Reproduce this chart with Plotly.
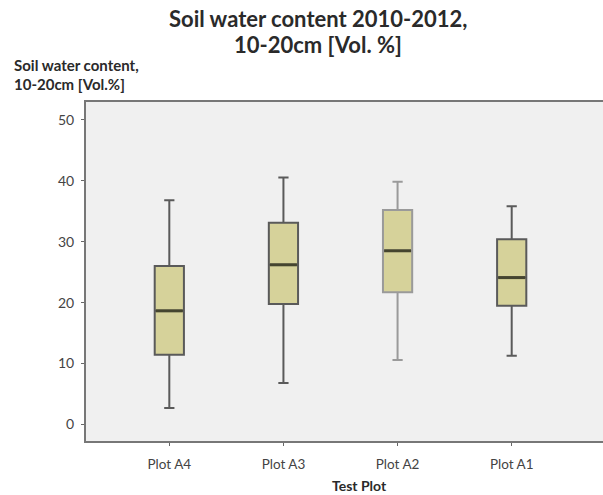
import plotly.graph_objects as go

categories = ["Plot A4", "Plot A3", "Plot A2", "Plot A1"]
lower = [2.7, 6.8, 10.6, 11.3]
q1 = [11.45, 19.75, 21.7, 19.5]
median = [18.65, 26.2, 28.5, 24.1]
q3 = [26.0, 33.1, 35.2, 30.4]
upper = [36.8, 40.5, 39.8, 35.8]
y_ticks = [0, 10, 20, 30, 40, 50]

line_colors = ["#5a5a5a", "#5a5a5a", "#9a9a9a", "#5a5a5a"]
FONT = "Lato"
BOXW = 0.256

fig = go.Figure()
for i, cat in enumerate(categories):
    fig.add_trace(go.Box(
        x=[i], q1=[q1[i]], median=[median[i]], q3=[q3[i]],
        lowerfence=[lower[i]], upperfence=[upper[i]],
        width=BOXW, whiskerwidth=0.35,
        fillcolor="#d6d29a", line=dict(color=line_colors[i], width=2),
        boxpoints=False, showlegend=False, hoverinfo="skip",
    ))
    fig.add_trace(go.Scatter(
        x=[i - BOXW / 2 + 0.01, i + BOXW / 2 - 0.01], y=[median[i], median[i]],
        mode="lines", line=dict(color="#45452f", width=3),
        showlegend=False, hoverinfo="skip",
    ))

fig.update_layout(
    width=603, height=495,
    margin=dict(l=86, r=0, t=102, b=54),
    paper_bgcolor="white", plot_bgcolor="#f0f0f0",
    font=dict(family=FONT, color="#333333"),
    showlegend=False,
)
fig.update_xaxes(
    range=[-0.73, 3.8], tickvals=list(range(len(categories))), ticktext=categories,
    showgrid=False, zeroline=False, showline=True, linecolor="#777777", linewidth=2,
    mirror=True, ticks="outside", ticklen=3, tickcolor="#666666",
    ticklabelstandoff=7,
    tickfont=dict(size=13.5, color="#444444", family=FONT),
)
fig.update_yaxes(
    range=[-2.7, 52.9], tickvals=y_ticks,
    showgrid=False, zeroline=False, showline=True, linecolor="#777777", linewidth=2,
    mirror=False, ticks="outside", ticklen=3, tickcolor="#666666",
    ticklabelstandoff=4,
    tickfont=dict(size=14, color="#444444", family=FONT),
)

H = 339.0
def py(pix):
    return (441 - pix) / H
def px(pix):
    return (pix - 86) / 517.0

ann = [
    ("<b>Soil water content 2010-2012,</b>", 317.5, 18, 22, "center"),
    ("<b>10-20cm [Vol. %]</b>", 317.5, 44, 22, "center"),
    ("<b>Soil water content,</b>", 12, 65, 15, "left"),
    ("<b>10-20cm [Vol.%]</b>", 12, 84, 15, "left"),
    ("<b>Test Plot</b>", 359, 485, 14, "center"),
]
for text, x, y, size, anchor in ann:
    fig.add_annotation(
        text=text, xref="paper", yref="paper", x=px(x), y=py(y),
        xanchor=anchor, yanchor="middle", showarrow=False,
        font=dict(size=size, color="#2a2a2a", family=FONT),
    )

fig.write_html("out.html")
